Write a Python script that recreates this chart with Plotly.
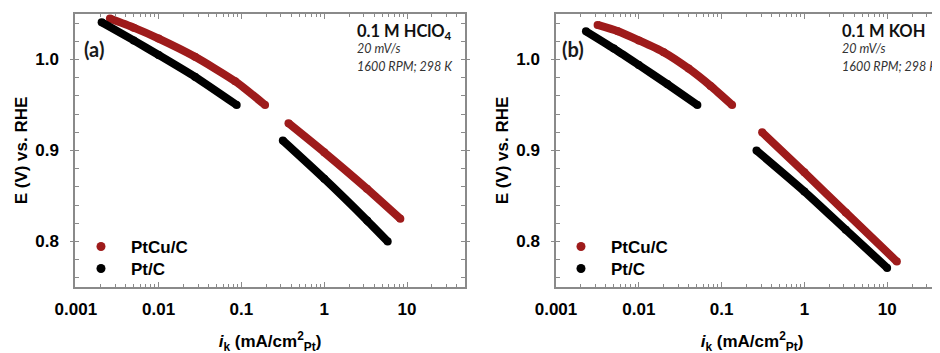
import plotly.graph_objects as go

# ---------------- data ----------------
# Panel (a): 0.1 M HClO4   -- None separates the two measured segments
a_ptcu_i = [0.00258, 0.005, 0.01, 0.0275, 0.084, 0.193, None, 0.37, 1.0, 3.28, 8.3]
a_ptcu_E = [1.045, 1.035, 1.023, 1.003, 0.976, 0.950, None, 0.930, 0.898, 0.858, 0.825]
a_pt_i = [0.00205, 0.005, 0.01, 0.0275, 0.0877, None, 0.316, 1.0, 3.3, 5.84]
a_pt_E = [1.041, 1.021, 1.005, 0.981, 0.950, None, 0.911, 0.869, 0.823, 0.800]

# Panel (b): 0.1 M KOH
b_ptcu_i = [0.00318, 0.0056, 0.01, 0.02, 0.04, 0.0736, 0.134, None, 0.309, 1.0, 3.16, 13.1]
b_ptcu_E = [1.038, 1.031, 1.021, 1.008, 0.990, 0.971, 0.950, None, 0.920, 0.876, 0.832, 0.778]
b_pt_i = [0.0023, 0.005, 0.01, 0.0221, 0.051, None, 0.264, 1.0, 3.16, 10.0]
b_pt_E = [1.031, 1.012, 0.994, 0.973, 0.950, None, 0.900, 0.855, 0.813, 0.771]

series_names = ["PtCu/C", "Pt/C"]
series_colors = ["#9e1b1b", "#000000"]

x_tickvals = [0.001, 0.01, 0.1, 1, 10]
x_ticktext = ["0.001", "0.01", "0.1", "1", "10"]
y_tickvals = [0.8, 0.9, 1.0]
y_ticktext = ["0.8", "0.9", "1.0"]

electrolytes = ["0.1 M HClO<sub>4</sub>", "0.1 M KOH"]
panel_tags = ["(a)", "(b)"]
scan_rate = "20 mV/s"
conditions = "1600 RPM; 298 K"

# ---------------- layout helpers ----------------
W, H = 940, 353
OFF = 8  # page body margin that shifts the figure in the browser
def px(x):
    return (x - OFF) / W
def py(y):
    return 1 - (y - OFF) / H

fig = go.Figure()

panels = [
    (a_ptcu_i, a_ptcu_E, a_pt_i, a_pt_E, "x", "y", ("legend", "legend2")),
    (b_ptcu_i, b_ptcu_E, b_pt_i, b_pt_E, "x2", "y2", ("legend3", "legend4")),
]
for (ci, cE, pi, pE, xa, ya, lgs) in panels:
    for xs, ys, name, col, lg in [(ci, cE, series_names[0], series_colors[0], lgs[0]),
                                  (pi, pE, series_names[1], series_colors[1], lgs[1])]:
        fig.add_trace(go.Scatter(
            x=xs, y=ys, mode="lines+markers", name=name,
            line=dict(color=col, width=8, shape="spline", smoothing=0.6),
            marker=dict(color=col, size=8),
            connectgaps=False, xaxis=xa, yaxis=ya, showlegend=False, hoverinfo="skip"))
        fig.add_trace(go.Scatter(
            x=[None], y=[None], mode="markers", name=name,
            marker=dict(color=col, size=9), xaxis=xa, yaxis=ya, legend=lg))

tick_font = dict(family="Liberation Sans, Arial", size=17, color="#000000", weight="bold")
title_font = dict(family="Liberation Sans, Arial", size=17, color="#000000", weight="bold")
axcol = "#8a8a8a"
xtitle = "<i>i</i><sub>k</sub> (mA/cm<sup>2</sup><sub>Pt</sub>)"

def xaxis_cfg(dom, rng, anchor):
    return dict(
        type="log", domain=dom, range=rng, anchor=anchor, automargin=False,
        tickvals=x_tickvals, ticktext=x_ticktext,
        ticks="inside", ticklen=5, tickwidth=1, tickcolor=axcol,
        minor=dict(ticks="inside", ticklen=3, tickwidth=1, tickcolor=axcol,
                   tickvals=[k * d for d in [0.001, 0.01, 0.1, 1, 10] for k in range(2, 10)]),
        showline=True, linecolor=axcol, linewidth=1.5, mirror="ticks",
        showgrid=False, zeroline=False, tickfont=tick_font, ticklabelstandoff=6,
        title=dict(text=xtitle, font=title_font, standoff=17),
    )

def yaxis_cfg(anchor, mirror):
    return dict(
        domain=[py(287), py(14)], range=[0.75, 1.05], anchor=anchor, automargin=False,
        tickvals=y_tickvals, ticktext=y_ticktext,
        ticks="outside", ticklen=3, tickwidth=1, tickcolor=axcol,
        minor=dict(ticks="inside", ticklen=4, tickwidth=1, tickcolor=axcol, dtick=0.02, tick0=0.8),
        showline=True, linecolor=axcol, linewidth=1.5, mirror=mirror,
        showgrid=False, zeroline=False, tickfont=tick_font, ticklabelstandoff=8,
        title=dict(text="E (V) vs. RHE", font=title_font, standoff=3),
    )

legend_common = dict(font=dict(family="Liberation Sans, Arial", size=17, color="#000000", weight="bold"),
                     bgcolor="rgba(0,0,0,0)", xanchor="left", yanchor="top",
                     tracegroupgap=0, itemwidth=50)

ann = []
for tag, tx, el, ex in [(panel_tags[0], 94, electrolytes[0], 355), (panel_tags[1], 573, electrolytes[1], 840)]:
    ann.append(dict(text=tag, x=px(tx), y=py(49), xref="paper", yref="paper", showarrow=False,
                    xanchor="center", yanchor="middle",
                    font=dict(family="Lato, Liberation Sans", size=20, color="#1a1a1a", weight="bold")))
    ann.append(dict(text=el, x=px(ex), y=py(31), xref="paper", yref="paper", showarrow=False,
                    xanchor="left", yanchor="middle",
                    font=dict(family="Lato, Liberation Sans", size=16.5, color="#111111", weight="bold")))
    ann.append(dict(text="<i>" + scan_rate + "</i>", x=px(ex), y=py(49), xref="paper", yref="paper",
                    showarrow=False, xanchor="left", yanchor="middle",
                    font=dict(family="Lato, Liberation Sans", size=12.5, color="#333333")))
    ann.append(dict(text="<i>" + conditions + "</i>", x=px(ex), y=py(67), xref="paper", yref="paper",
                    showarrow=False, xanchor="left", yanchor="middle",
                    font=dict(family="Lato, Liberation Sans", size=12.5, color="#333333")))

fig.update_layout(
    width=W, height=H, margin=dict(l=0, r=0, t=0, b=0, autoexpand=False),
    paper_bgcolor="white", plot_bgcolor="white",
    xaxis=xaxis_cfg([px(75), px(465)], [-3.01, 1.7], "y"),
    yaxis=yaxis_cfg("x", "ticks"),
    xaxis2=xaxis_cfg([px(556), 1.0], [-3.0, 1.735], "y2"),
    yaxis2=yaxis_cfg("x2", False),
    legend=dict(x=px(71), y=py(229), **legend_common),
    legend2=dict(x=px(71), y=py(251), **legend_common),
    legend3=dict(x=px(551), y=py(229), **legend_common),
    legend4=dict(x=px(551), y=py(251), **legend_common),
    annotations=ann,
    showlegend=True,
)

fig.write_html("out.html")
